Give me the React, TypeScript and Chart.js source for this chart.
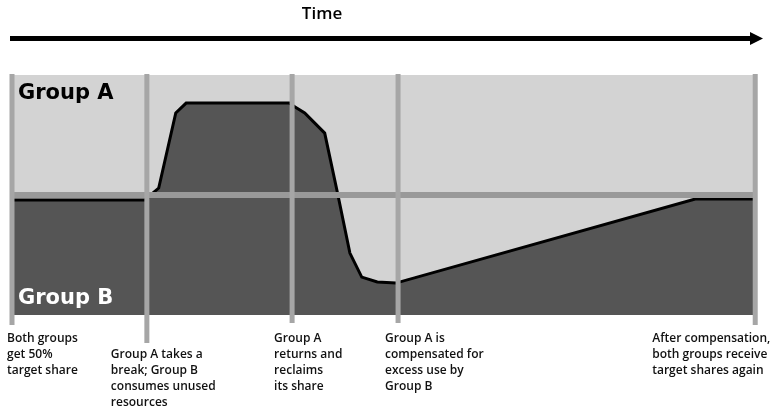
import React, { useEffect, useRef } from "react";
import { Chart, registerables } from "chart.js";

Chart.register(...registerables);

// Time (0..100) and Group B share (%) along the curve
const timePoints = [0, 17.95, 19.0, 19.8, 22.1, 23.5, 37.4, 38.2, 39.5, 42.2, 43.9, 45.6, 47.2, 49.3, 51.8, 92.2, 100];
const groupBShare = [47.9, 47.9, 50.8, 52.9, 84.2, 88.3, 88.3, 86.7, 84.2, 75.8, 51.25, 25.8, 15.8, 13.75, 13.3, 48.3, 48.3];

// Event marker times
const eventTimes = [0, 18.2, 37.8, 52.1, 100.3];
const eventLabels = [
  ["Both groups", "get 50%", "target share"],
  ["Group A takes a", "break; Group B", "consumes unused", "resources"],
  ["Group A", "returns and", "reclaims", "its share"],
  ["Group A is", "compensated for", "excess use by", "Group B"],
  ["After compensation,", "both groups receive", "target shares again"],
];
const targetShare = [50];
const axisTitle = "Time";
const groupLabels = ["Group A", "Group B"];

// layout/style constants (pixels)
const labelDx = [-5, -36, -18, -13, -103];
const labelTop = [339, 355, 339, 339, 339];
const markerBottomExtra = [10, 28, 8, 8, 10];

const fontUI = '"Open Sans", "Noto Sans", sans-serif';
const fontGroup = '"DejaVu Sans", Verdana, sans-serif';

const overlayPlugin = {
  id: "overlay",
  beforeDatasetsDraw(chart: any) {
    const { ctx, chartArea } = chart;
    ctx.save();
    ctx.fillStyle = "#d3d3d3";
    ctx.fillRect(chartArea.left, chartArea.top, chartArea.right - chartArea.left, chartArea.bottom - chartArea.top);
    ctx.restore();
  },
  afterDatasetsDraw(chart: any) {
    const { ctx, chartArea } = chart;
    const xs = chart.scales.x;
    const ys = chart.scales.y;
    ctx.save();
    // midline (target share)
    targetShare.forEach((v) => {
      const y = ys.getPixelForValue(v);
      ctx.fillStyle = "#999999";
      ctx.fillRect(chartArea.left, y - 3, chartArea.right - chartArea.left, 6);
    });
    // event markers
    eventTimes.forEach((t, i) => {
      const x = xs.getPixelForValue(t);
      ctx.fillStyle = "#a6a6a6";
      ctx.fillRect(x - 2.5, chartArea.top - 1, 5, chartArea.bottom - chartArea.top + 1 + markerBottomExtra[i]);
    });
    // group labels
    ctx.font = `bold 21px ${fontGroup}`;
    ctx.textBaseline = "middle";
    ctx.textAlign = "left";
    ctx.fillStyle = "#000000";
    ctx.fillText(groupLabels[0], chartArea.left + 6, chartArea.top + 19);
    ctx.fillStyle = "#ffffff";
    ctx.fillText(groupLabels[1], chartArea.left + 6, chartArea.bottom - 16);
    // event labels
    ctx.font = `600 12px ${fontUI}`;
    ctx.fillStyle = "#111111";
    eventLabels.forEach((lines, i) => {
      const x = xs.getPixelForValue(eventTimes[i]) + labelDx[i];
      lines.forEach((ln, j) => {
        ctx.fillText(ln, x, labelTop[i] + j * 16);
      });
    });
    // time arrow
    ctx.fillStyle = "#000000";
    ctx.fillRect(10, 36, 742, 5);
    ctx.beginPath();
    ctx.moveTo(750, 32);
    ctx.lineTo(763, 38.5);
    ctx.lineTo(750, 45);
    ctx.closePath();
    ctx.fill();
    ctx.font = `600 17px ${fontUI}`;
    ctx.textAlign = "center";
    ctx.fillText(axisTitle, 322, 14);
    ctx.restore();
  },
};

export default function App() {
  const ref = useRef<HTMLCanvasElement>(null);
  useEffect(() => {
    document.body.style.margin = "0";
    const canvas = ref.current!;
    const chart = new Chart(canvas, {
      type: "line",
      data: {
        datasets: [
          {
            data: timePoints.map((t, i) => ({ x: t, y: groupBShare[i] })),
            borderColor: "#000000",
            borderWidth: 3,
            backgroundColor: "#555555",
            fill: "origin",
            pointRadius: 0,
            tension: 0,
          },
        ],
      },
      options: {
        animation: false,
        responsive: false,
        maintainAspectRatio: false,
        layout: { padding: { left: 12, right: 23, top: 75, bottom: 96 } },
        plugins: { legend: { display: false }, tooltip: { enabled: false } },
        scales: {
          x: { type: "linear", min: 0, max: 100, display: false },
          y: { type: "linear", min: 0, max: 100, display: false },
        },
      },
      plugins: [overlayPlugin],
    });
    return () => chart.destroy();
  }, []);
  return (
    <div style={{ width: 776, height: 411, background: "#ffffff" }}>
      <canvas ref={ref} width={776} height={411} style={{ display: "block" }} />
    </div>
  );
}
